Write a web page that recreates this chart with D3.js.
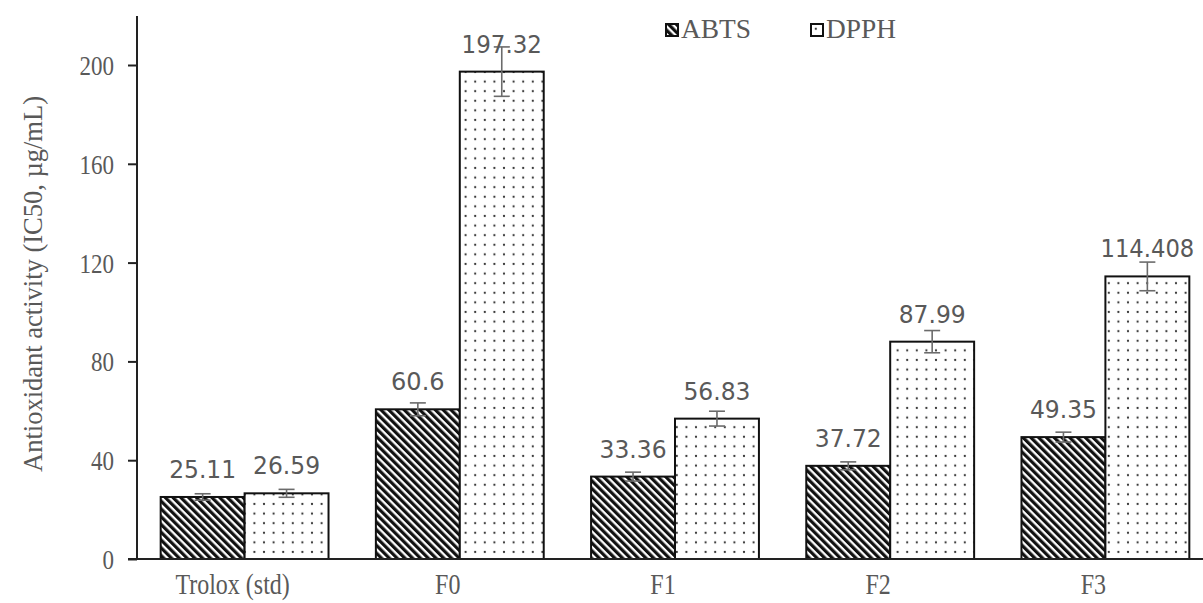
<!DOCTYPE html>
<html>
<head>
<meta charset="utf-8">
<script src="https://cdn.jsdelivr.net/npm/d3@7"></script>
<style>
  body { margin: 0; background: #fff; }
  text { fill: #595959; }
</style>
</head>
<body>
<div id="chart"></div>
<script>
// data
var categories = ["Trolox (std)", "F0", "F1", "F2", "F3"];
var series = ["ABTS", "DPPH"];
var abts = [25.11, 60.6, 33.36, 37.72, 49.35];
var dpph = [26.59, 197.32, 56.83, 87.99, 114.408];
var abtsErr = [1.3, 2.6, 1.8, 1.6, 2.0];
var dpphErr = [1.6, 10.0, 3.0, 4.5, 5.8];
var abtsLabels = ["25.11", "60.6", "33.36", "37.72", "49.35"];
var dpphLabels = ["26.59", "197.32", "56.83", "87.99", "114.408"];
var yTicks = [0, 40, 80, 120, 160, 200];

var width = 1203, height = 603;
var stretch = 1.22; // text in the picture is drawn taller than normal
var svg = d3.select("#chart").append("svg")
  .attr("width", width)
  .attr("height", height);

var defs = svg.append("defs");
// diagonal hatch for ABTS
var hatch = defs.append("pattern")
  .attr("id", "hatch")
  .attr("patternUnits", "userSpaceOnUse")
  .attr("width", 5.5).attr("height", 10)
  .attr("patternTransform", "rotate(-45)");
hatch.append("rect").attr("width", 5.5).attr("height", 10).attr("fill", "#fff");
hatch.append("rect").attr("width", 3.2).attr("height", 10).attr("fill", "#111");

// dots for DPPH
var dots = defs.append("pattern")
  .attr("id", "dots")
  .attr("patternUnits", "userSpaceOnUse")
  .attr("width", 9.6).attr("height", 9.6);
dots.append("rect").attr("width", 9.6).attr("height", 9.6).attr("fill", "#fff");
dots.append("circle").attr("cx", 4.8).attr("cy", 4.8).attr("r", 1.1).attr("fill", "#333");

var fills = { ABTS: "url(#hatch)", DPPH: "url(#dots)" };

var x0 = d3.scaleBand()
  .domain(categories)
  .range([137, 1213])
  .paddingInner(0.22)
  .paddingOuter(0.11);

var x1 = d3.scaleBand()
  .domain(series)
  .range([0, x0.bandwidth()]);

var y = d3.scaleLinear()
  .domain([0, 200])
  .range([559, 65]);

var rows = categories.map(function(c, i) {
  return [
    { cat: c, s: "ABTS", v: abts[i], e: abtsErr[i], lab: abtsLabels[i] },
    { cat: c, s: "DPPH", v: dpph[i], e: dpphErr[i], lab: dpphLabels[i] }
  ];
});
var flat = [].concat.apply([], rows);

// bars
svg.append("g").selectAll("rect")
  .data(flat)
  .enter().append("rect")
    .attr("x", function(d) { return x0(d.cat) + x1(d.s); })
    .attr("y", function(d) { return y(d.v); })
    .attr("width", x1.bandwidth())
    .attr("height", function(d) { return y(0) - y(d.v); })
    .attr("fill", function(d) { return fills[d.s]; })
    .attr("stroke", "#111")
    .attr("stroke-width", 2);

// error bars
var eb = svg.append("g").attr("stroke", "#6b6b6b").attr("stroke-width", 1.6);
flat.forEach(function(d) {
  var cx = x0(d.cat) + x1(d.s) + x1.bandwidth() / 2;
  eb.append("line").attr("x1", cx).attr("x2", cx).attr("y1", y(d.v + d.e)).attr("y2", y(d.v - d.e));
  eb.append("line").attr("x1", cx - 8).attr("x2", cx + 8).attr("y1", y(d.v + d.e)).attr("y2", y(d.v + d.e));
  eb.append("line").attr("x1", cx - 8).attr("x2", cx + 8).attr("y1", y(d.v - d.e)).attr("y2", y(d.v - d.e));
});

// value labels
svg.append("g").selectAll("text")
  .data(flat)
  .enter().append("text")
    .attr("transform", function(d) {
      var cx = x0(d.cat) + x1(d.s) + x1.bandwidth() / 2;
      return "translate(" + cx + "," + (y(d.v) - 19) + ") scale(1," + stretch + ")";
    })
    .attr("text-anchor", "middle")
    .style("font-family", "DejaVu Sans, sans-serif")
    .style("font-size", "21px")
    .attr("textLength", function(d) { return d.lab.length * 13.4; })
    .attr("lengthAdjust", "spacingAndGlyphs")
    .text(function(d) { return d.lab; });

// y axis
var yAxis = svg.append("g")
  .attr("transform", "translate(137,0)")
  .call(d3.axisLeft(y).tickValues(yTicks).tickSize(9).tickPadding(14));
yAxis.select(".domain").attr("d", "M0,16V559").attr("stroke", "#222").attr("stroke-width", 2);
yAxis.selectAll(".tick line").attr("stroke", "#222").attr("stroke-width", 2);
yAxis.selectAll(".tick text")
  .style("font-family", "Liberation Serif, serif")
  .style("font-size", "23px")
  .attr("dy", "0.34em")
  .attr("transform", "scale(1," + stretch + ")")
  .style("fill", "#595959");

// x axis
var xAxis = svg.append("g")
  .attr("transform", "translate(0,559)")
  .call(d3.axisBottom(x0).tickSize(0).tickPadding(12));
xAxis.select(".domain").attr("d", "M128,0H1203").attr("stroke", "#222").attr("stroke-width", 2);
xAxis.selectAll(".tick text")
  .style("font-family", "Liberation Serif, serif")
  .style("font-size", "24px")
  .attr("transform", "translate(-12,0) scale(1," + stretch + ")")
  .style("fill", "#595959");

// y title
svg.append("text")
  .attr("transform", "translate(42,284) rotate(-90) scale(1," + stretch + ")")
  .attr("text-anchor", "middle")
  .style("font-family", "Liberation Serif, serif")
  .style("font-size", "23px")
  .attr("textLength", 376)
  .attr("lengthAdjust", "spacingAndGlyphs")
  .text("Antioxidant activity (IC50, µg/mL)");

// legend
var legendX = [666, 811];
series.forEach(function(s, i) {
  var g = svg.append("g").attr("transform", "translate(" + legendX[i] + ",24)");
  g.append("rect").attr("width", 12).attr("height", 12)
    .attr("fill", fills[s]).attr("stroke", "#111").attr("stroke-width", 2);
  g.append("text")
    .attr("transform", "translate(15,14) scale(1," + stretch + ")")
    .style("font-family", "Liberation Serif, serif")
    .style("font-size", "23px")
    .attr("textLength", s.length * 17.5)
    .attr("lengthAdjust", "spacingAndGlyphs")
    .text(s);
});
</script>
</body>
</html>
